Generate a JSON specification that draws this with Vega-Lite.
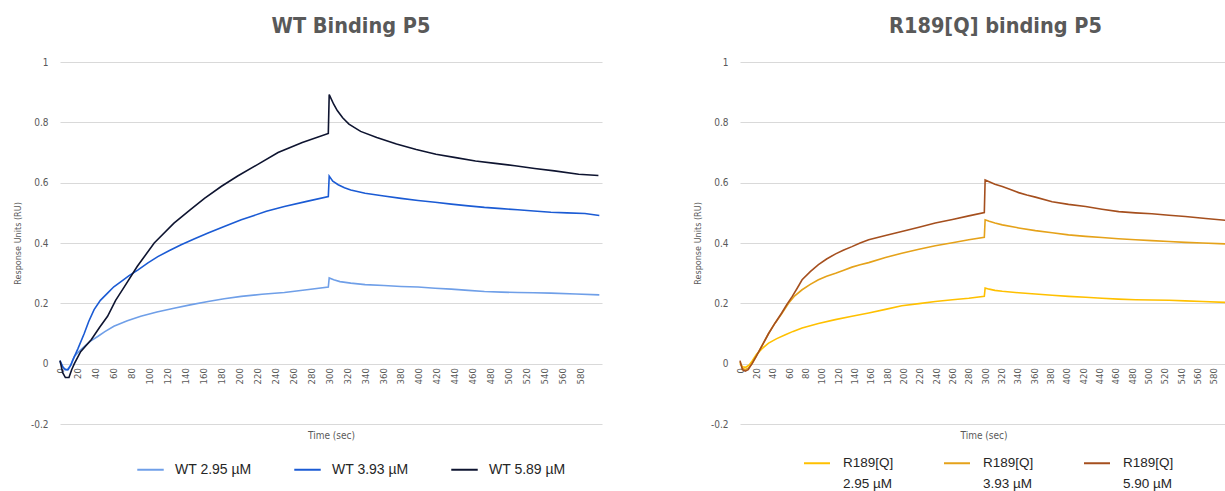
{
  "$schema": "https://vega.github.io/schema/vega-lite/v6.json",
  "padding": {"left": 13, "top": 15, "right": 0, "bottom": 0},
  "background": "white",
  "spacing": 90,
  "resolve": {"scale": {"color": "independent"}, "legend": {"color": "independent"}},
  "config": {
    "view": {"stroke": null},
    "font": "Liberation Sans Narrow, DejaVu Sans Condensed, Liberation Sans",
    "style": {"guide-label": {"lineHeight": 21}},
    "axis": {"labelColor": "#595959", "titleColor": "#595959", "titleFontWeight": "normal", "labelFont": "Liberation Sans Narrow, DejaVu Sans Condensed, Liberation Sans", "titleFont": "Liberation Sans Narrow, DejaVu Sans Condensed, Liberation Sans"},
    "legend": {"labelFont": "Liberation Sans", "labelColor": "#262626", "labelLimit": 300},
    "title": {"font": "Liberation Sans Narrow, DejaVu Sans Condensed, Liberation Sans", "fontSize": 21.5, "fontWeight": "bold", "color": "#595959", "baseline": "alphabetic"}
  },
  "datasets": {
    "wt": [
      {"series": "WT 2.95 µM", "t": 0, "v": 0.005}, {"series": "WT 2.95 µM", "t": 4, "v": -0.015}, {"series": "WT 2.95 µM", "t": 8, "v": -0.02}, {"series": "WT 2.95 µM", "t": 12, "v": -0.005}, {"series": "WT 2.95 µM", "t": 16, "v": 0.024}, {"series": "WT 2.95 µM", "t": 21, "v": 0.04}, {"series": "WT 2.95 µM", "t": 27, "v": 0.057}, {"series": "WT 2.95 µM", "t": 34, "v": 0.075}, {"series": "WT 2.95 µM", "t": 42, "v": 0.09}, {"series": "WT 2.95 µM", "t": 50, "v": 0.106}, {"series": "WT 2.95 µM", "t": 60, "v": 0.124}, {"series": "WT 2.95 µM", "t": 75, "v": 0.142}, {"series": "WT 2.95 µM", "t": 90, "v": 0.157}, {"series": "WT 2.95 µM", "t": 108, "v": 0.171}, {"series": "WT 2.95 µM", "t": 127, "v": 0.184}, {"series": "WT 2.95 µM", "t": 145, "v": 0.195}, {"series": "WT 2.95 µM", "t": 165, "v": 0.206}, {"series": "WT 2.95 µM", "t": 183, "v": 0.215}, {"series": "WT 2.95 µM", "t": 202, "v": 0.223}, {"series": "WT 2.95 µM", "t": 225, "v": 0.23}, {"series": "WT 2.95 µM", "t": 250, "v": 0.236}, {"series": "WT 2.95 µM", "t": 275, "v": 0.245}, {"series": "WT 2.95 µM", "t": 299, "v": 0.254}, {"series": "WT 2.95 µM", "t": 300, "v": 0.284}, {"series": "WT 2.95 µM", "t": 305, "v": 0.278}, {"series": "WT 2.95 µM", "t": 312, "v": 0.272}, {"series": "WT 2.95 µM", "t": 324, "v": 0.267}, {"series": "WT 2.95 µM", "t": 340, "v": 0.262}, {"series": "WT 2.95 µM", "t": 361, "v": 0.259}, {"series": "WT 2.95 µM", "t": 380, "v": 0.256}, {"series": "WT 2.95 µM", "t": 399, "v": 0.254}, {"series": "WT 2.95 µM", "t": 418, "v": 0.25}, {"series": "WT 2.95 µM", "t": 436, "v": 0.247}, {"series": "WT 2.95 µM", "t": 455, "v": 0.243}, {"series": "WT 2.95 µM", "t": 473, "v": 0.239}, {"series": "WT 2.95 µM", "t": 492, "v": 0.237}, {"series": "WT 2.95 µM", "t": 510, "v": 0.236}, {"series": "WT 2.95 µM", "t": 528, "v": 0.235}, {"series": "WT 2.95 µM", "t": 547, "v": 0.234}, {"series": "WT 2.95 µM", "t": 575, "v": 0.231}, {"series": "WT 2.95 µM", "t": 601, "v": 0.228},
      {"series": "WT 3.93 µM", "t": 0, "v": 0.01}, {"series": "WT 3.93 µM", "t": 3, "v": -0.01}, {"series": "WT 3.93 µM", "t": 6, "v": -0.02}, {"series": "WT 3.93 µM", "t": 9, "v": -0.02}, {"series": "WT 3.93 µM", "t": 12, "v": -0.005}, {"series": "WT 3.93 µM", "t": 14, "v": 0.01}, {"series": "WT 3.93 µM", "t": 20, "v": 0.05}, {"series": "WT 3.93 µM", "t": 27, "v": 0.1}, {"series": "WT 3.93 µM", "t": 32, "v": 0.14}, {"series": "WT 3.93 µM", "t": 38, "v": 0.179}, {"series": "WT 3.93 µM", "t": 45, "v": 0.21}, {"series": "WT 3.93 µM", "t": 53, "v": 0.234}, {"series": "WT 3.93 µM", "t": 60, "v": 0.255}, {"series": "WT 3.93 µM", "t": 68, "v": 0.272}, {"series": "WT 3.93 µM", "t": 77, "v": 0.292}, {"series": "WT 3.93 µM", "t": 87, "v": 0.311}, {"series": "WT 3.93 µM", "t": 98, "v": 0.334}, {"series": "WT 3.93 µM", "t": 109, "v": 0.355}, {"series": "WT 3.93 µM", "t": 122, "v": 0.375}, {"series": "WT 3.93 µM", "t": 135, "v": 0.394}, {"series": "WT 3.93 µM", "t": 150, "v": 0.414}, {"series": "WT 3.93 µM", "t": 165, "v": 0.433}, {"series": "WT 3.93 µM", "t": 183, "v": 0.455}, {"series": "WT 3.93 µM", "t": 202, "v": 0.477}, {"series": "WT 3.93 µM", "t": 213, "v": 0.488}, {"series": "WT 3.93 µM", "t": 230, "v": 0.505}, {"series": "WT 3.93 µM", "t": 250, "v": 0.521}, {"series": "WT 3.93 µM", "t": 275, "v": 0.538}, {"series": "WT 3.93 µM", "t": 299, "v": 0.554}, {"series": "WT 3.93 µM", "t": 300, "v": 0.622}, {"series": "WT 3.93 µM", "t": 304, "v": 0.605}, {"series": "WT 3.93 µM", "t": 310, "v": 0.593}, {"series": "WT 3.93 µM", "t": 317, "v": 0.583}, {"series": "WT 3.93 µM", "t": 324, "v": 0.576}, {"series": "WT 3.93 µM", "t": 340, "v": 0.565}, {"series": "WT 3.93 µM", "t": 361, "v": 0.556}, {"series": "WT 3.93 µM", "t": 380, "v": 0.548}, {"series": "WT 3.93 µM", "t": 399, "v": 0.541}, {"series": "WT 3.93 µM", "t": 418, "v": 0.535}, {"series": "WT 3.93 µM", "t": 436, "v": 0.529}, {"series": "WT 3.93 µM", "t": 455, "v": 0.523}, {"series": "WT 3.93 µM", "t": 473, "v": 0.518}, {"series": "WT 3.93 µM", "t": 492, "v": 0.514}, {"series": "WT 3.93 µM", "t": 510, "v": 0.51}, {"series": "WT 3.93 µM", "t": 528, "v": 0.506}, {"series": "WT 3.93 µM", "t": 547, "v": 0.502}, {"series": "WT 3.93 µM", "t": 565, "v": 0.5}, {"series": "WT 3.93 µM", "t": 585, "v": 0.498}, {"series": "WT 3.93 µM", "t": 601, "v": 0.491},
      {"series": "WT 5.89 µM", "t": 0, "v": 0.01}, {"series": "WT 5.89 µM", "t": 3, "v": -0.03}, {"series": "WT 5.89 µM", "t": 6, "v": -0.046}, {"series": "WT 5.89 µM", "t": 10, "v": -0.046}, {"series": "WT 5.89 µM", "t": 13, "v": -0.02}, {"series": "WT 5.89 µM", "t": 16, "v": 0.0}, {"series": "WT 5.89 µM", "t": 23, "v": 0.04}, {"series": "WT 5.89 µM", "t": 35, "v": 0.08}, {"series": "WT 5.89 µM", "t": 44, "v": 0.12}, {"series": "WT 5.89 µM", "t": 53, "v": 0.157}, {"series": "WT 5.89 µM", "t": 62, "v": 0.21}, {"series": "WT 5.89 µM", "t": 72, "v": 0.256}, {"series": "WT 5.89 µM", "t": 86, "v": 0.322}, {"series": "WT 5.89 µM", "t": 105, "v": 0.4}, {"series": "WT 5.89 µM", "t": 127, "v": 0.466}, {"series": "WT 5.89 µM", "t": 145, "v": 0.51}, {"series": "WT 5.89 µM", "t": 161, "v": 0.548}, {"series": "WT 5.89 µM", "t": 180, "v": 0.588}, {"series": "WT 5.89 µM", "t": 198, "v": 0.622}, {"series": "WT 5.89 µM", "t": 220, "v": 0.66}, {"series": "WT 5.89 µM", "t": 243, "v": 0.7}, {"series": "WT 5.89 µM", "t": 270, "v": 0.733}, {"series": "WT 5.89 µM", "t": 299, "v": 0.763}, {"series": "WT 5.89 µM", "t": 300, "v": 0.892}, {"series": "WT 5.89 µM", "t": 305, "v": 0.86}, {"series": "WT 5.89 µM", "t": 309, "v": 0.839}, {"series": "WT 5.89 µM", "t": 315, "v": 0.815}, {"series": "WT 5.89 µM", "t": 322, "v": 0.794}, {"series": "WT 5.89 µM", "t": 335, "v": 0.77}, {"series": "WT 5.89 µM", "t": 353, "v": 0.75}, {"series": "WT 5.89 µM", "t": 375, "v": 0.728}, {"series": "WT 5.89 µM", "t": 397, "v": 0.71}, {"series": "WT 5.89 µM", "t": 419, "v": 0.694}, {"series": "WT 5.89 µM", "t": 441, "v": 0.683}, {"series": "WT 5.89 µM", "t": 463, "v": 0.672}, {"series": "WT 5.89 µM", "t": 485, "v": 0.664}, {"series": "WT 5.89 µM", "t": 507, "v": 0.656}, {"series": "WT 5.89 µM", "t": 529, "v": 0.647}, {"series": "WT 5.89 µM", "t": 551, "v": 0.639}, {"series": "WT 5.89 µM", "t": 578, "v": 0.628}, {"series": "WT 5.89 µM", "t": 600, "v": 0.624}
    ],
    "r189": [
      {"series": "R189[Q] 2.95 µM", "t": 0, "v": 0.0}, {"series": "R189[Q] 2.95 µM", "t": 3, "v": -0.01}, {"series": "R189[Q] 2.95 µM", "t": 7, "v": -0.012}, {"series": "R189[Q] 2.95 µM", "t": 11, "v": -0.005}, {"series": "R189[Q] 2.95 µM", "t": 14.7, "v": 0.008}, {"series": "R189[Q] 2.95 µM", "t": 20, "v": 0.03}, {"series": "R189[Q] 2.95 µM", "t": 27, "v": 0.05}, {"series": "R189[Q] 2.95 µM", "t": 35, "v": 0.068}, {"series": "R189[Q] 2.95 µM", "t": 45, "v": 0.083}, {"series": "R189[Q] 2.95 µM", "t": 55.5, "v": 0.096}, {"series": "R189[Q] 2.95 µM", "t": 65, "v": 0.107}, {"series": "R189[Q] 2.95 µM", "t": 76, "v": 0.118}, {"series": "R189[Q] 2.95 µM", "t": 96, "v": 0.133}, {"series": "R189[Q] 2.95 µM", "t": 116.6, "v": 0.146}, {"series": "R189[Q] 2.95 µM", "t": 137, "v": 0.157}, {"series": "R189[Q] 2.95 µM", "t": 157.5, "v": 0.168}, {"series": "R189[Q] 2.95 µM", "t": 178, "v": 0.18}, {"series": "R189[Q] 2.95 µM", "t": 198, "v": 0.192}, {"series": "R189[Q] 2.95 µM", "t": 219, "v": 0.199}, {"series": "R189[Q] 2.95 µM", "t": 239, "v": 0.206}, {"series": "R189[Q] 2.95 µM", "t": 260, "v": 0.212}, {"series": "R189[Q] 2.95 µM", "t": 280, "v": 0.217}, {"series": "R189[Q] 2.95 µM", "t": 299, "v": 0.223}, {"series": "R189[Q] 2.95 µM", "t": 300, "v": 0.251}, {"series": "R189[Q] 2.95 µM", "t": 305, "v": 0.247}, {"series": "R189[Q] 2.95 µM", "t": 312, "v": 0.243}, {"series": "R189[Q] 2.95 µM", "t": 321, "v": 0.24}, {"series": "R189[Q] 2.95 µM", "t": 341, "v": 0.235}, {"series": "R189[Q] 2.95 µM", "t": 361.5, "v": 0.231}, {"series": "R189[Q] 2.95 µM", "t": 382, "v": 0.227}, {"series": "R189[Q] 2.95 µM", "t": 402, "v": 0.223}, {"series": "R189[Q] 2.95 µM", "t": 423, "v": 0.22}, {"series": "R189[Q] 2.95 µM", "t": 443, "v": 0.217}, {"series": "R189[Q] 2.95 µM", "t": 463, "v": 0.214}, {"series": "R189[Q] 2.95 µM", "t": 484, "v": 0.212}, {"series": "R189[Q] 2.95 µM", "t": 504, "v": 0.211}, {"series": "R189[Q] 2.95 µM", "t": 525, "v": 0.21}, {"series": "R189[Q] 2.95 µM", "t": 545, "v": 0.208}, {"series": "R189[Q] 2.95 µM", "t": 566, "v": 0.206}, {"series": "R189[Q] 2.95 µM", "t": 596, "v": 0.203},
      {"series": "R189[Q] 3.93 µM", "t": 0, "v": 0.005}, {"series": "R189[Q] 3.93 µM", "t": 3, "v": -0.015}, {"series": "R189[Q] 3.93 µM", "t": 6.5, "v": -0.02}, {"series": "R189[Q] 3.93 µM", "t": 10, "v": -0.015}, {"series": "R189[Q] 3.93 µM", "t": 14.7, "v": 0.0}, {"series": "R189[Q] 3.93 µM", "t": 20, "v": 0.025}, {"series": "R189[Q] 3.93 µM", "t": 27, "v": 0.06}, {"series": "R189[Q] 3.93 µM", "t": 35, "v": 0.1}, {"series": "R189[Q] 3.93 µM", "t": 43, "v": 0.135}, {"series": "R189[Q] 3.93 µM", "t": 51, "v": 0.165}, {"series": "R189[Q] 3.93 µM", "t": 59.6, "v": 0.201}, {"series": "R189[Q] 3.93 µM", "t": 67, "v": 0.225}, {"series": "R189[Q] 3.93 µM", "t": 76, "v": 0.245}, {"series": "R189[Q] 3.93 µM", "t": 86, "v": 0.263}, {"series": "R189[Q] 3.93 µM", "t": 96, "v": 0.278}, {"series": "R189[Q] 3.93 µM", "t": 106, "v": 0.29}, {"series": "R189[Q] 3.93 µM", "t": 117, "v": 0.3}, {"series": "R189[Q] 3.93 µM", "t": 127, "v": 0.31}, {"series": "R189[Q] 3.93 µM", "t": 137, "v": 0.32}, {"series": "R189[Q] 3.93 µM", "t": 147, "v": 0.328}, {"series": "R189[Q] 3.93 µM", "t": 157.5, "v": 0.335}, {"series": "R189[Q] 3.93 µM", "t": 178, "v": 0.352}, {"series": "R189[Q] 3.93 µM", "t": 198, "v": 0.366}, {"series": "R189[Q] 3.93 µM", "t": 219, "v": 0.379}, {"series": "R189[Q] 3.93 µM", "t": 239, "v": 0.391}, {"series": "R189[Q] 3.93 µM", "t": 260, "v": 0.401}, {"series": "R189[Q] 3.93 µM", "t": 280, "v": 0.411}, {"series": "R189[Q] 3.93 µM", "t": 299, "v": 0.419}, {"series": "R189[Q] 3.93 µM", "t": 300, "v": 0.477}, {"series": "R189[Q] 3.93 µM", "t": 305, "v": 0.472}, {"series": "R189[Q] 3.93 µM", "t": 312, "v": 0.466}, {"series": "R189[Q] 3.93 µM", "t": 321, "v": 0.46}, {"series": "R189[Q] 3.93 µM", "t": 341, "v": 0.45}, {"series": "R189[Q] 3.93 µM", "t": 361.5, "v": 0.441}, {"series": "R189[Q] 3.93 µM", "t": 382, "v": 0.434}, {"series": "R189[Q] 3.93 µM", "t": 402, "v": 0.427}, {"series": "R189[Q] 3.93 µM", "t": 423, "v": 0.422}, {"series": "R189[Q] 3.93 µM", "t": 443, "v": 0.418}, {"series": "R189[Q] 3.93 µM", "t": 463, "v": 0.414}, {"series": "R189[Q] 3.93 µM", "t": 484, "v": 0.411}, {"series": "R189[Q] 3.93 µM", "t": 504, "v": 0.408}, {"series": "R189[Q] 3.93 µM", "t": 525, "v": 0.405}, {"series": "R189[Q] 3.93 µM", "t": 545, "v": 0.402}, {"series": "R189[Q] 3.93 µM", "t": 566, "v": 0.4}, {"series": "R189[Q] 3.93 µM", "t": 596, "v": 0.397},
      {"series": "R189[Q] 5.90 µM", "t": 0, "v": 0.01}, {"series": "R189[Q] 5.90 µM", "t": 3, "v": -0.02}, {"series": "R189[Q] 5.90 µM", "t": 6.5, "v": -0.025}, {"series": "R189[Q] 5.90 µM", "t": 10, "v": -0.02}, {"series": "R189[Q] 5.90 µM", "t": 14.7, "v": 0.0}, {"series": "R189[Q] 5.90 µM", "t": 20, "v": 0.025}, {"series": "R189[Q] 5.90 µM", "t": 27, "v": 0.06}, {"series": "R189[Q] 5.90 µM", "t": 35, "v": 0.1}, {"series": "R189[Q] 5.90 µM", "t": 43, "v": 0.135}, {"series": "R189[Q] 5.90 µM", "t": 51, "v": 0.168}, {"series": "R189[Q] 5.90 µM", "t": 57, "v": 0.195}, {"series": "R189[Q] 5.90 µM", "t": 64, "v": 0.223}, {"series": "R189[Q] 5.90 µM", "t": 70, "v": 0.25}, {"series": "R189[Q] 5.90 µM", "t": 76, "v": 0.278}, {"series": "R189[Q] 5.90 µM", "t": 86, "v": 0.305}, {"series": "R189[Q] 5.90 µM", "t": 96, "v": 0.328}, {"series": "R189[Q] 5.90 µM", "t": 106, "v": 0.347}, {"series": "R189[Q] 5.90 µM", "t": 117, "v": 0.364}, {"series": "R189[Q] 5.90 µM", "t": 127, "v": 0.377}, {"series": "R189[Q] 5.90 µM", "t": 137, "v": 0.388}, {"series": "R189[Q] 5.90 µM", "t": 147, "v": 0.4}, {"series": "R189[Q] 5.90 µM", "t": 157.5, "v": 0.411}, {"series": "R189[Q] 5.90 µM", "t": 178, "v": 0.425}, {"series": "R189[Q] 5.90 µM", "t": 198, "v": 0.438}, {"series": "R189[Q] 5.90 µM", "t": 219, "v": 0.452}, {"series": "R189[Q] 5.90 µM", "t": 239, "v": 0.466}, {"series": "R189[Q] 5.90 µM", "t": 260, "v": 0.478}, {"series": "R189[Q] 5.90 µM", "t": 280, "v": 0.49}, {"series": "R189[Q] 5.90 µM", "t": 299, "v": 0.501}, {"series": "R189[Q] 5.90 µM", "t": 300, "v": 0.609}, {"series": "R189[Q] 5.90 µM", "t": 305, "v": 0.603}, {"series": "R189[Q] 5.90 µM", "t": 312, "v": 0.595}, {"series": "R189[Q] 5.90 µM", "t": 321, "v": 0.587}, {"series": "R189[Q] 5.90 µM", "t": 331, "v": 0.577}, {"series": "R189[Q] 5.90 µM", "t": 341, "v": 0.567}, {"series": "R189[Q] 5.90 µM", "t": 351, "v": 0.559}, {"series": "R189[Q] 5.90 µM", "t": 361.5, "v": 0.552}, {"series": "R189[Q] 5.90 µM", "t": 382, "v": 0.537}, {"series": "R189[Q] 5.90 µM", "t": 402, "v": 0.528}, {"series": "R189[Q] 5.90 µM", "t": 423, "v": 0.521}, {"series": "R189[Q] 5.90 µM", "t": 443, "v": 0.512}, {"series": "R189[Q] 5.90 µM", "t": 463.5, "v": 0.504}, {"series": "R189[Q] 5.90 µM", "t": 484, "v": 0.5}, {"series": "R189[Q] 5.90 µM", "t": 504, "v": 0.497}, {"series": "R189[Q] 5.90 µM", "t": 525, "v": 0.492}, {"series": "R189[Q] 5.90 µM", "t": 545, "v": 0.488}, {"series": "R189[Q] 5.90 µM", "t": 570, "v": 0.481}, {"series": "R189[Q] 5.90 µM", "t": 596, "v": 0.475}
    ]
  },
  "hconcat": [
    {
      "data": {"name": "wt"},
      "title": {"text": "WT Binding P5", "dx": 20, "offset": 20},
      "width": 542,
      "height": 362,
      "mark": {"type": "line", "strokeWidth": 1.6},
      "encoding": {
        "x": {"field": "t", "type": "quantitative", "scale": {"domain": [0, 604], "nice": false, "zero": false},
          "axis": {"title": "Time (sec)", "offset": -60.33, "values": [0,20,40,60,80,100,120,140,160,180,200,220,240,260,280,300,320,340,360,380,400,420,440,460,480,500,520,540,560,580], "labelAngle": -90, "labelFontSize": 9.5, "labelPadding": 4, "labelOverlap": false, "labelBound": false, "labelFlush": false, "grid": false, "domain": false, "ticks": false, "titleFontSize": 10, "titleY": 67, "titleBaseline": "top"}},
        "y": {"field": "v", "type": "quantitative", "scale": {"domain": [-0.2, 1], "nice": false, "zero": false},
          "axis": {"title": "Response Units (RU)", "values": [-0.2,0,0.2,0.4,0.6,0.8,1], "labelExpr": "datum.value < 0 ? '-' + format(-datum.value, '~g') : format(datum.value, '~g')", "labelFontSize": 10, "labelPadding": 12, "grid": true, "gridColor": "#d9d9d9", "gridWidth": 1.2, "domain": false, "ticks": false, "titleFontSize": 9, "titlePadding": 8}},
        "color": {"field": "series", "type": "nominal",
          "scale": {"domain": ["WT 2.95 µM", "WT 3.93 µM", "WT 5.89 µM"], "range": ["#6f9fe8", "#1b5bd4", "#0e1430"]},
          "legend": {"title": null, "orient": "none", "legendX": 76, "legendY": 393, "direction": "horizontal", "symbolType": "stroke", "symbolSize": 700, "symbolStrokeWidth": 2, "labelFontSize": 14, "labelOffset": 10, "columnPadding": 38}}
      }
    },
    {
      "data": {"name": "r189"},
      "title": {"text": "R189[Q] binding P5", "dx": 12, "offset": 20},
      "width": 487,
      "height": 362,
      "mark": {"type": "line", "strokeWidth": 1.6},
      "encoding": {
        "x": {"field": "t", "type": "quantitative", "scale": {"domain": [0, 596], "nice": false, "zero": false},
          "axis": {"title": "Time (sec)", "offset": -60.33, "values": [0,20,40,60,80,100,120,140,160,180,200,220,240,260,280,300,320,340,360,380,400,420,440,460,480,500,520,540,560,580], "labelAngle": -90, "labelFontSize": 9.5, "labelPadding": 4, "labelOverlap": false, "labelBound": false, "labelFlush": false, "grid": false, "domain": false, "ticks": false, "titleFontSize": 10, "titleY": 67, "titleBaseline": "top"}},
        "y": {"field": "v", "type": "quantitative", "scale": {"domain": [-0.2, 1], "nice": false, "zero": false},
          "axis": {"title": "Response Units (RU)", "values": [-0.2,0,0.2,0.4,0.6,0.8,1], "labelExpr": "datum.value < 0 ? '-' + format(-datum.value, '~g') : format(datum.value, '~g')", "labelFontSize": 10, "labelPadding": 12, "grid": true, "gridColor": "#d9d9d9", "gridWidth": 1.2, "domain": false, "ticks": false, "titleFontSize": 9, "titlePadding": 8}},
        "color": {"field": "series", "type": "nominal",
          "scale": {"domain": ["R189[Q] 2.95 µM", "R189[Q] 3.93 µM", "R189[Q] 5.90 µM"], "range": ["#ffc000", "#e5a21a", "#a54f1e"]},
          "legend": {"title": null, "orient": "none", "legendX": 63, "legendY": 387, "direction": "horizontal", "symbolType": "stroke", "symbolSize": 676, "symbolStrokeWidth": 2, "labelFontSize": 13.5, "labelOffset": 12, "columnPadding": 46, "labelExpr": "[slice(datum.label, 0, 7), slice(datum.label, 8)]"}}
      }
    }
  ]
}
